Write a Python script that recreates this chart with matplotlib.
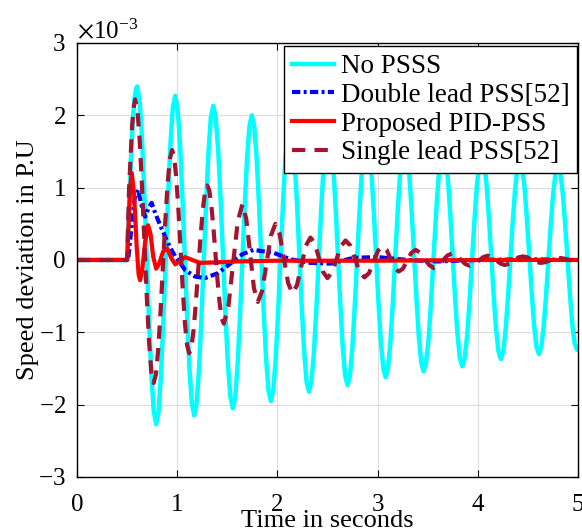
import matplotlib.pyplot as plt

plt.rcParams['font.family'] = 'Liberation Serif'
plt.rcParams['mathtext.fontset'] = 'stix'
plt.rcParams['axes.unicode_minus'] = False

# time (s) and speed deviation (x1e-3 p.u.)
t_nopss = [0, 0.50, 0.515, 0.53, 0.545, 0.56, 0.575, 0.59, 0.60,
           0.624, 0.6475, 0.671, 0.695, 0.719, 0.7425, 0.766, 0.79,
           0.814, 0.8375, 0.861, 0.885, 0.909, 0.9325, 0.956, 0.98,
           1.004, 1.0275, 1.051, 1.075, 1.099, 1.1225, 1.146, 1.17,
           1.194, 1.2175, 1.241, 1.265, 1.289, 1.3125, 1.336, 1.36,
           1.384, 1.409, 1.433, 1.4575, 1.482, 1.506, 1.531, 1.555,
           1.579, 1.6025, 1.626, 1.65, 1.674, 1.6975, 1.721, 1.745,
           1.769, 1.7925, 1.816, 1.84, 1.864, 1.8875, 1.911, 1.935,
           1.959, 1.9825, 2.006, 2.03, 2.054, 2.0775, 2.101, 2.125,
           2.149, 2.1725, 2.196, 2.22, 2.244, 2.2675, 2.291, 2.315,
           2.339, 2.364, 2.388, 2.4125, 2.437, 2.461, 2.486, 2.51,
           2.534, 2.5575, 2.581, 2.605, 2.629, 2.6525, 2.676, 2.70,
           2.724, 2.7475, 2.771, 2.795, 2.819, 2.8425, 2.866, 2.89,
           2.914, 2.9375, 2.961, 2.985, 3.009, 3.0325, 3.056, 3.08,
           3.104, 3.1275, 3.151, 3.175, 3.199, 3.2225, 3.246, 3.27,
           3.294, 3.3175, 3.341, 3.365, 3.389, 3.4125, 3.436, 3.46,
           3.484, 3.509, 3.533, 3.5575, 3.582, 3.606, 3.631, 3.655,
           3.679, 3.7025, 3.726, 3.75, 3.774, 3.7975, 3.821, 3.845,
           3.869, 3.894, 3.918, 3.9425, 3.967, 3.991, 4.016, 4.04,
           4.064, 4.0875, 4.111, 4.135, 4.159, 4.1825, 4.206, 4.23,
           4.254, 4.2775, 4.301, 4.325, 4.349, 4.3725, 4.396, 4.42,
           4.444, 4.4675, 4.491, 4.515, 4.539, 4.5625, 4.586, 4.61,
           4.634, 4.6575, 4.681, 4.705, 4.729, 4.7525, 4.776, 4.80,
           4.824, 4.8475, 4.871, 4.895, 4.919, 4.9425, 4.966, 4.99, 5.0]
w_nopss = [0, 0, 0.5, 1.1, 1.6, 2.0, 2.25, 2.37, 2.40,
           2.22, 1.72, 0.96, 0.065, -0.83, -1.59, -2.09, -2.27,
           -2.10, -1.60, -0.87, 0.0, 0.87, 1.60, 2.10, 2.27,
           2.10, 1.62, 0.91, 0.06, -0.79, -1.50, -1.98, -2.15,
           -1.99, -1.52, -0.83, -0.01, 0.81, 1.50, 1.97, 2.13,
           1.97, 1.52, 0.84, 0.04, -0.76, -1.44, -1.89, -2.05,
           -1.90, -1.46, -0.80, -0.025, 0.75, 1.41, 1.85, 2.00,
           1.85, 1.42, 0.78, 0.025, -0.73, -1.37, -1.80, -1.95,
           -1.80, -1.38, -0.76, -0.015, 0.73, 1.35, 1.77, 1.92,
           1.78, 1.37, 0.77, 0.05, -0.67, -1.27, -1.68, -1.82,
           -1.68, -1.29, -0.70, 0.0, 0.70, 1.29, 1.68, 1.82,
           1.685, 1.30, 0.725, 0.045, -0.635, -1.21, -1.595, -1.73,
           -1.60, -1.225, -0.665, -0.005, 0.655, 1.215, 1.59, 1.72,
           1.59, 1.23, 0.69, 0.05, -0.59, -1.13, -1.49, -1.62,
           -1.50, -1.14, -0.62, 0.005, 0.63, 1.15, 1.51, 1.63,
           1.51, 1.165, 0.65, 0.045, -0.56, -1.075, -1.42, -1.54,
           -1.42, -1.09, -0.59, 0.005, 0.60, 1.10, 1.43, 1.55,
           1.435, 1.11, 0.62, 0.04, -0.54, -1.03, -1.355, -1.47,
           -1.36, -1.04, -0.565, -0.005, 0.555, 1.03, 1.35, 1.46,
           1.35, 1.045, 0.59, 0.045, -0.50, -0.955, -1.26, -1.37,
           -1.265, -0.97, -0.52, 0.005, 0.53, 0.98, 1.275, 1.38,
           1.28, 0.99, 0.55, 0.04, -0.47, -0.91, -1.20, -1.30,
           -1.20, -0.92, -0.50, 0.0, 0.50, 0.92, 1.20, 1.30,
           1.20, 0.93, 0.51, 0.025, -0.46, -0.875, -1.15, -1.24, -1.24]

t_double = [0, 0.51, 0.54, 0.575, 0.61, 0.645, 0.68, 0.715, 0.745, 0.78,
            0.83, 0.88, 0.93, 0.98, 1.08, 1.18, 1.28, 1.41, 1.53, 1.65,
            1.76, 1.96, 2.13, 2.33, 2.53, 2.76, 3.0, 3.3, 3.6, 4.0, 4.5, 5.0]
w_double = [0, 0, 0.4, 0.85, 0.97, 0.75, 0.6, 0.72, 0.79, 0.65,
            0.48, 0.32, 0.17, 0.05, -0.14, -0.23, -0.25, -0.18, -0.05, 0.08,
            0.14, 0.10, 0.01, -0.04, -0.05, 0.03, 0.04, 0.0, -0.02, 0.0, 0.01, 0.0]

t_pid = [0, 0.50, 0.515, 0.53, 0.547, 0.57, 0.595, 0.615, 0.63, 0.65,
         0.68, 0.71, 0.735, 0.76, 0.79, 0.82, 0.86, 0.90, 0.94, 0.98,
         1.03, 1.08, 1.15, 1.23, 1.35, 1.6, 2.0, 3.0, 4.0, 5.0]
w_pid = [0, 0, 0.5, 1.0, 1.20, 0.9, 0.2, -0.2, -0.28, -0.15,
         0.25, 0.48, 0.35, 0.05, -0.12, -0.05, 0.12, 0.16, 0.03, -0.06,
         -0.01, 0.04, 0.0, -0.04, -0.035, -0.02, -0.01, -0.01, 0.0, 0.0]

t_single = [0, 0.50, 0.52, 0.55, 0.565, 0.58,
            0.603, 0.626, 0.649, 0.6725, 0.696, 0.719, 0.742, 0.765,
            0.788, 0.811, 0.834, 0.8575, 0.881, 0.904, 0.927, 0.95,
            0.971, 0.9925, 1.014, 1.035, 1.056, 1.0775, 1.099, 1.12,
            1.1425, 1.165, 1.1875, 1.21, 1.2325, 1.255, 1.2775, 1.30,
            1.3206, 1.341, 1.362, 1.3825, 1.403, 1.424, 1.444, 1.465,
            1.511, 1.5575, 1.604, 1.65,
            1.689, 1.7275, 1.766, 1.805, 1.849, 1.8925, 1.936, 1.98,
            2.0225, 2.065, 2.1075, 2.15, 2.195, 2.24, 2.285, 2.33,
            2.3725, 2.415, 2.4575, 2.50, 2.545, 2.59, 2.635, 2.68,
            2.7275, 2.775, 2.8225, 2.87, 2.915, 2.96, 3.005, 3.05,
            3.09, 3.13, 3.17, 3.21, 3.2525, 3.295, 3.3375, 3.38,
            3.425, 3.47, 3.515, 3.56, 3.605, 3.65, 3.695, 3.74,
            3.785, 3.83, 3.875, 3.92, 3.965, 4.01, 4.055, 4.10,
            4.1425, 4.185, 4.2275, 4.27, 4.315, 4.36, 4.405, 4.45,
            4.495, 4.54, 4.585, 4.63, 4.675, 4.72, 4.765, 4.81,
            4.8575, 4.905, 4.9525, 5.0]
w_single = [0, 0, 1.0, 1.85, 2.1, 2.22,
            2.07, 1.65, 1.01, 0.26, -0.49, -1.13, -1.55, -1.70,
            -1.58, -1.23, -0.71, -0.09, 0.53, 1.05, 1.40, 1.52,
            1.41, 1.11, 0.65, 0.115, -0.42, -0.88, -1.18, -1.29,
            -1.20, -0.95, -0.57, -0.13, 0.31, 0.69, 0.94, 1.03,
            0.96, 0.75, 0.44, 0.075, -0.29, -0.60, -0.81, -0.88,
            -0.64, -0.055, 0.53, 0.77,
            0.57, 0.095, -0.39, -0.58, -0.42, -0.04, 0.34, 0.50,
            0.36, 0.02, -0.32, -0.46, -0.35, -0.075, 0.20, 0.31,
            0.23, 0.03, -0.17, -0.25, -0.17, 0.01, 0.19, 0.27,
            0.20, 0.015, -0.17, -0.24, -0.18, -0.025, 0.13, 0.19,
            0.14, 0.015, -0.11, -0.16, -0.12, -0.01, 0.10, 0.14,
            0.10, 0.015, -0.07, -0.11, -0.08, -0.01, 0.06, 0.09,
            0.065, 0.005, -0.055, -0.08, -0.06, -0.01, 0.04, 0.06,
            0.04, -0.005, -0.05, -0.07, -0.05, -0.01, 0.035, 0.05,
            0.037, 0.005, -0.03, -0.04, -0.03, -0.005, 0.02, 0.03,
            0.02, 0.005, -0.013, -0.02]

labels = ['No PSSS', 'Double lead PSS[52]', 'Proposed PID-PSS', 'Single lead PSS[52]']

fig = plt.figure(figsize=(5.82, 5.30), dpi=100)
ax = fig.add_axes([0.1323, 0.1, 0.8608, 0.8189])

ax.plot(t_nopss, [v * 1e-3 for v in w_nopss], color='#00ffff', lw=3.2, label=labels[0])
ax.plot(t_double, [v * 1e-3 for v in w_double], color='#0000ff', lw=3,
        dashes=(2, 0.8, 0.7, 0.8), label=labels[1])
ax.plot(t_pid, [v * 1e-3 for v in w_pid], color='#ff0000', lw=3, label=labels[2])
ax.plot(t_single, [v * 1e-3 for v in w_single], color='#a2142f', lw=3,
        dashes=(3.2, 2.2), label=labels[3])

ax.set_xlim(0, 5)
ax.set_ylim(-3e-3, 3e-3)
ax.set_xticks([0, 1, 2, 3, 4, 5])
ax.set_yticks([-3e-3, -2e-3, -1e-3, 0, 1e-3, 2e-3, 3e-3])
ax.ticklabel_format(axis='y', style='sci', scilimits=(-3, -3), useMathText=True)
ax.yaxis.get_offset_text().set_fontsize(18)
ax.grid(True, color='#dcdcdc', lw=0.8)
ax.set_axisbelow(True)
ax.tick_params(direction='in', top=True, right=True, labelsize=18, length=5)
ax.tick_params(axis='y', pad=8)
ax.tick_params(axis='x', pad=12)
for s in ax.spines.values():
    s.set_linewidth(1.0)

ax.set_xlabel('Time in seconds', fontsize=19)
ax.set_ylabel('Speed deviation in P.U', fontsize=19)
ax.xaxis.set_label_coords(0.5, -0.077)
ax.yaxis.set_label_coords(-0.076, 0.5)

leg = ax.legend(loc='upper right', bbox_to_anchor=(0.998, 0.992), borderaxespad=0,
                fontsize=19.5, handlelength=1.55, handletextpad=0.25, labelspacing=0.14,
                borderpad=0.28, fancybox=False, framealpha=1, edgecolor='black')
leg.get_frame().set_linewidth(1.0)

plt.savefig('out.png', dpi=100)
